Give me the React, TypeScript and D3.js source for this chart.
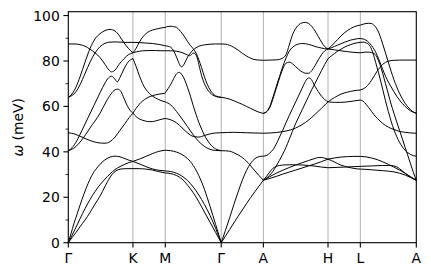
import React from "react";
import * as d3 from "d3";

// High-symmetry path (distances in units of |ΓK|)
const pathLabels = ["Γ", "K", "M", "Γ", "A", "H", "L", "A"];
const pathDistances = [0, 1, 1.5, 2.366, 3.018, 4.018, 4.518, 5.384];
const yTicks = [0, 20, 40, 60, 80, 100];
const yMinorTicks = [10, 30, 50, 70, 90];
const yMax = 101.7;

type Pt = [number, number]; // [fraction along segment, energy meV]

// Γ → K
const gammaK: Pt[][] = [
  [[0,87.5],[0.104,87.5],[0.181,87.2],[0.259,86.5],[0.336,85.2],[0.413,83.6],[0.491,81.5],[0.568,78.5],[0.63,76],[0.668,75.2],[0.723,76],[0.785,78.5],[0.862,81],[0.932,82.8],[1,83.6]],
  [[0,64],[0.057,65.5],[0.119,68.5],[0.181,73],[0.259,79.5],[0.336,85.5],[0.413,89.7],[0.491,92],[0.568,93.4],[0.646,93.9],[0.723,93.2],[0.785,91.3],[0.862,88],[0.932,85.5],[1,83.6]],
  [[0,64],[0.057,64.8],[0.119,66.5],[0.181,69.5],[0.259,74.5],[0.336,79.5],[0.413,83.5],[0.491,86.3],[0.568,87.8],[0.646,88.3],[0.723,88.4],[0.8,88.3],[0.878,88.2],[1,88.2]],
  [[0,40.5],[0.057,41.8],[0.13,44.8],[0.212,49.5],[0.305,55],[0.398,60.5],[0.491,66],[0.568,70.3],[0.622,72.6],[0.672,73.3],[0.715,72.2],[0.759,70.8],[0.8,72.8],[0.862,76.5],[0.924,79.5],[1,81.1]],
  [[0,40.5],[0.104,42],[0.207,45.2],[0.336,50.5],[0.491,57],[0.584,62],[0.661,65.5],[0.723,67.3],[0.769,67.6],[0.816,66.5],[0.862,63.5],[0.909,60.5],[0.955,58.3],[1,57]],
  [[0,48.4],[0.104,47.8],[0.212,46.5],[0.336,45],[0.46,44],[0.568,43.8],[0.646,44.5],[0.723,46.5],[0.8,49.5],[0.878,52.5],[0.94,55],[1,57]],
  [[0,0],[0.042,4],[0.088,8.5],[0.135,12.5],[0.181,16.5],[0.243,21.5],[0.305,26],[0.382,30.5],[0.46,33.5],[0.553,36.2],[0.646,37.7],[0.723,38.1],[0.8,37.8],[0.878,37],[0.94,36.3],[1,35.8]],
  [[0,0],[0.057,3.2],[0.119,6.8],[0.181,10.5],[0.259,15],[0.336,19],[0.413,22.5],[0.491,25.5],[0.568,28],[0.646,30.3],[0.723,32.2],[0.8,33.5],[0.878,34.6],[0.94,35.3],[1,35.8]],
  [[0,0],[0.057,2.2],[0.119,4.5],[0.181,7],[0.259,10],[0.336,13.3],[0.413,17],[0.491,20.5],[0.568,24.8],[0.646,28.8],[0.707,31],[0.769,32.1],[0.831,32.5],[0.909,32.6],[1,32.6]],
];

// K → M
const kM: Pt[][] = [
  [[0,83.6],[0.1,85.6],[0.2,88.3],[0.3,90.5],[0.4,92],[0.5,93],[0.6,93.6],[0.7,94],[0.8,94.3],[0.9,94.6],[1,94.8]],
  [[0,83.6],[0.1,84],[0.2,84.3],[0.3,84.5],[0.5,84.6],[0.7,84.6],[0.9,84.5],[1,84.5]],
  [[0,88.2],[0.2,88.1],[0.4,87.9],[0.6,87.7],[0.8,87.3],[0.9,87],[1,86.7]],
  [[0,81.1],[0.1,77.5],[0.2,73.5],[0.3,70],[0.4,67.5],[0.5,65.8],[0.6,64.6],[0.7,63.7],[0.8,63],[0.9,62.4],[1,62]],
  [[0,57],[0.1,59.2],[0.2,61],[0.3,62.4],[0.4,63.4],[0.5,64.2],[0.6,64.7],[0.7,65.1],[0.8,65.4],[0.9,65.6],[1,65.8]],
  [[0,57],[0.1,55.5],[0.2,54.5],[0.3,53.9],[0.4,53.5],[0.5,53.3],[0.6,53.3],[0.7,53.6],[0.8,54],[0.9,54.4],[1,54.7]],
  [[0,35.8],[0.2,36.8],[0.4,38],[0.6,39.2],[0.8,40.2],[1,40.7]],
  [[0,35.8],[0.2,34.7],[0.4,33.5],[0.6,32.5],[0.8,31.9],[1,31.6]],
  [[0,32.6],[0.2,32.6],[0.4,32.4],[0.6,32],[0.8,31.3],[1,30.7]],
];

// M → Γ
const mGamma: Pt[][] = [
  [[0,94.8],[0.05,95.2],[0.1,95.3],[0.15,95.1],[0.2,94.8],[0.25,93.7],[0.3,92.2],[0.35,90.5],[0.4,88.5],[0.45,86.8],[0.5,85.4],[0.55,83.5],[0.6,80.5],[0.65,77],[0.7,73],[0.75,69.8],[0.8,67.3],[0.85,65.7],[0.9,64.7],[0.95,64.2],[1,64]],
  [[0,86.7],[0.05,86.5],[0.1,86],[0.15,84.5],[0.2,81.8],[0.25,78.8],[0.29,77.4],[0.33,78.3],[0.37,80.3],[0.4,81.8],[0.45,83.5],[0.5,84.9],[0.55,85.8],[0.6,86.5],[0.7,87.1],[0.8,87.4],[0.9,87.5],[1,87.5]],
  [[0,84.5],[0.1,84.5],[0.2,84.3],[0.3,83.7],[0.35,83.2],[0.4,82.6],[0.43,82.3],[0.47,82.9],[0.5,83.5],[0.53,83.3],[0.57,81.5],[0.6,78.5],[0.65,73.5],[0.7,70],[0.75,67.6],[0.8,66],[0.85,65],[0.9,64.4],[0.95,64.1],[1,64]],
  [[0,66],[0.05,67.8],[0.1,69.8],[0.15,72.2],[0.2,74.3],[0.25,75],[0.3,73.9],[0.35,71.5],[0.4,68.2],[0.45,64.5],[0.5,60.3],[0.55,56.5],[0.6,53],[0.65,50],[0.7,47.3],[0.75,45.2],[0.8,43.5],[0.85,42.2],[0.9,41.3],[0.95,40.8],[1,40.5]],
  [[0,62],[0.1,60.6],[0.2,57.8],[0.3,54.5],[0.4,51],[0.5,47.5],[0.6,44.5],[0.7,42.4],[0.8,41.1],[0.9,40.6],[1,40.5]],
  [[0,54.7],[0.1,54.1],[0.2,52.8],[0.3,50.6],[0.4,48.3],[0.5,46.8],[0.6,46.5],[0.7,47.2],[0.8,47.9],[0.9,48.3],[1,48.4]],
  [[0,40.7],[0.1,40.5],[0.2,39.9],[0.3,38.8],[0.4,37],[0.5,34],[0.6,29.5],[0.7,23.5],[0.8,16],[0.9,8],[1,0]],
  [[0,31.6],[0.1,31.3],[0.2,30.6],[0.3,29.3],[0.4,27.3],[0.5,24.5],[0.6,21],[0.7,16.8],[0.8,12],[0.9,6.3],[1,0]],
  [[0,30.7],[0.1,30.4],[0.2,29.6],[0.3,28],[0.4,25.3],[0.5,22],[0.6,18],[0.7,13.5],[0.8,9],[0.9,4.5],[1,0]],
];

// Γ → A
const gammaA: Pt[][] = [
  [[0,87.5],[0.1,87.4],[0.2,86.9],[0.3,86],[0.4,84.8],[0.5,83.4],[0.6,82.2],[0.7,81.2],[0.8,80.6],[0.9,80.4],[1,80.3]],
  [[0,64],[0.1,63.7],[0.2,63.2],[0.3,62.5],[0.4,61.7],[0.5,60.9],[0.6,60],[0.7,59.1],[0.8,58.2],[0.9,57.4],[1,56.9]],
  [[0,48.4],[0.3,48.6],[0.6,48.4],[1,48.2]],
  [[0,40.5],[0.1,40.45],[0.2,40.3],[0.3,39.6],[0.4,38.7],[0.5,37.5],[0.6,35.9],[0.7,33.8],[0.8,31.6],[0.9,29.5],[1,27.5]],
  [[0,0],[0.1,2.9],[0.2,5.8],[0.3,8.7],[0.4,11.6],[0.5,14.4],[0.6,17.2],[0.7,19.9],[0.8,22.5],[0.9,25],[1,27.5]],
  [[0,0],[0.1,5.4],[0.2,11],[0.3,16.8],[0.4,22.3],[0.5,27.5],[0.6,31.8],[0.7,35],[0.8,37],[0.9,37.9],[1,38.1]],
];

// A → H
const aH: Pt[][] = [
  [[0,80.3],[0.1,80.4],[0.2,80.5],[0.25,80.7],[0.3,81.3],[0.35,82.8],[0.4,87],[0.45,91.5],[0.5,94.3],[0.55,96],[0.6,96.8],[0.65,97],[0.7,96.5],[0.75,95.2],[0.8,93.2],[0.85,90.8],[0.9,88.3],[0.95,86.3],[1,85.3]],
  [[0,57],[0.05,57.8],[0.1,60],[0.15,64.2],[0.2,68.8],[0.25,73.2],[0.3,77.5],[0.35,81.3],[0.4,84.3],[0.45,86],[0.5,87],[0.55,87.5],[0.6,87.7],[0.65,87.6],[0.7,87.3],[0.75,86.9],[0.8,86.4],[0.85,86],[0.9,85.7],[0.95,85.4],[1,85.3]],
  [[0,57],[0.05,57.6],[0.1,59.6],[0.15,63.5],[0.2,68],[0.25,72.5],[0.3,76.5],[0.35,79],[0.4,79.5],[0.45,78.8],[0.5,77.5],[0.55,76.2],[0.6,75.2],[0.65,74.6],[0.7,74.6],[0.75,75.8],[0.8,78],[0.85,80.5],[0.9,82.8],[0.95,84.5],[1,85.3]],
  [[0,38.1],[0.05,38.4],[0.1,39.5],[0.15,41],[0.2,43.5],[0.25,46.5],[0.3,49.5],[0.35,52.8],[0.4,56],[0.45,59],[0.5,62],[0.55,65],[0.6,68],[0.65,71],[0.7,72.5],[0.73,72.2],[0.77,70.5],[0.8,68.8],[0.85,66.5],[0.9,64.5],[0.95,63],[1,62]],
  [[0,27.5],[0.05,28.5],[0.1,29.8],[0.15,31.5],[0.2,33.8],[0.25,36.3],[0.3,39],[0.35,42],[0.4,45.5],[0.45,49],[0.5,52.5],[0.55,55.5],[0.6,58.5],[0.65,61.5],[0.7,64.5],[0.75,67.5],[0.8,70.2],[0.85,73],[0.9,75.8],[0.95,78.5],[1,81]],
  [[0,48.2],[0.1,48.3],[0.2,48.5],[0.3,48.9],[0.4,49.5],[0.5,50.5],[0.6,52],[0.7,54],[0.8,56.5],[0.9,59.2],[1,62]],
  [[0,27.5],[0.05,29.3],[0.1,31.2],[0.15,32.8],[0.2,33.6],[0.25,34],[0.3,34.2],[0.4,34.3],[0.5,34.3],[0.6,34.2],[0.7,34],[0.8,33.7],[0.9,33.3],[1,33]],
  [[0,27.5],[0.05,28.3],[0.1,29.1],[0.2,30.6],[0.3,31.9],[0.4,33.1],[0.5,34.2],[0.6,35.2],[0.7,36.2],[0.8,37.1],[0.85,37.5],[0.9,37.5],[0.95,37.2],[1,36.8]],
  [[0,27.5],[0.1,28.3],[0.2,29.2],[0.3,30.2],[0.4,31.1],[0.5,32],[0.6,32.9],[0.7,33.8],[0.8,34.7],[0.9,35.7],[1,36.8]],
];

// H → L
const hL: Pt[][] = [
  [[0,85.3],[0.1,86.5],[0.2,88],[0.3,89.5],[0.4,91],[0.5,92.3],[0.6,93.4],[0.7,94.3],[0.8,95],[0.9,95.5],[1,95.8]],
  [[0,85.3],[0.1,85.8],[0.2,86.4],[0.3,87],[0.4,87.6],[0.5,88.2],[0.6,88.7],[0.7,89.2],[0.8,89.5],[0.9,89.8],[1,89.9]],
  [[0,81],[0.1,82.2],[0.2,83.3],[0.3,84.3],[0.4,85.2],[0.5,86],[0.6,86.7],[0.7,87.2],[0.8,87.7],[0.9,88],[1,88.2]],
  [[0,85.3],[0.2,84.9],[0.4,84.5],[0.6,84.1],[0.8,83.8],[1,83.6]],
  [[0,62],[0.1,63],[0.2,63.9],[0.3,64.7],[0.4,65.4],[0.5,65.9],[0.6,66.3],[0.7,66.6],[0.8,66.9],[0.9,67.1],[1,67.2]],
  [[0,62],[0.2,61.8],[0.4,61.8],[0.6,62],[0.8,62.4],[1,62.8]],
  [[0,36.8],[0.2,37.3],[0.4,37.7],[0.6,37.9],[0.8,38],[1,38]],
  [[0,36.8],[0.1,36.2],[0.2,35.5],[0.3,34.8],[0.4,34.2],[0.5,33.7],[0.6,33.3],[0.7,33],[0.8,32.7],[0.9,32.5],[1,32.4]],
  [[0,33],[0.5,33.3],[1,33.6]],
];

// L → A
const lA: Pt[][] = [
  [[0,95.8],[0.05,96.2],[0.1,96.5],[0.15,96.6],[0.2,96.5],[0.25,95.6],[0.3,94],[0.35,91.2],[0.4,87.5],[0.45,83.5],[0.5,79.5],[0.55,75.5],[0.6,71.8],[0.65,68.6],[0.7,65.8],[0.75,63.4],[0.8,61.4],[0.85,59.8],[0.9,58.5],[0.95,57.5],[1,57]],
  [[0,89.9],[0.05,89.7],[0.1,89.2],[0.15,88.2],[0.2,86.8],[0.25,85],[0.3,82.5],[0.35,79.5],[0.4,76.3],[0.45,73.3],[0.5,70.8],[0.55,68.6],[0.6,66.5],[0.65,64.5],[0.7,62.8],[0.75,61.3],[0.8,60],[0.85,58.9],[0.9,58],[0.95,57.4],[1,57]],
  [[0,88.2],[0.05,88.3],[0.1,88],[0.15,87.3],[0.2,85.2],[0.25,81.5],[0.3,77],[0.35,72.5],[0.4,67.5],[0.45,62.5],[0.5,57.8],[0.55,53.5],[0.6,49.8],[0.65,46.7],[0.7,44.2],[0.75,42.2],[0.8,40.7],[0.85,39.6],[0.9,38.8],[0.95,38.3],[1,38.1]],
  [[0,83.6],[0.05,83.8],[0.1,83.9],[0.15,83.9],[0.2,83.7],[0.25,83.2],[0.3,81.5],[0.35,78.5],[0.4,74.5],[0.45,70],[0.5,65.5],[0.55,61],[0.6,57],[0.65,53.2],[0.7,49.5],[0.75,45.8],[0.8,42],[0.85,38.3],[0.9,34.5],[0.95,30.8],[1,27.5]],
  [[0,67.2],[0.05,67.7],[0.1,68.5],[0.15,69.8],[0.2,71.5],[0.25,73.5],[0.3,75.5],[0.35,77.2],[0.4,78.5],[0.45,79.4],[0.5,79.9],[0.55,80.2],[0.6,80.3],[0.7,80.4],[0.8,80.4],[0.9,80.4],[1,80.4]],
  [[0,62.8],[0.05,62.3],[0.1,61],[0.15,59.5],[0.2,57.8],[0.25,56.2],[0.3,54.8],[0.35,53.6],[0.4,52.5],[0.45,51.6],[0.5,50.9],[0.55,50.3],[0.6,49.8],[0.65,49.4],[0.7,49],[0.8,48.6],[0.9,48.3],[1,48.2]],
  [[0,38],[0.1,37.8],[0.2,37.3],[0.3,36.6],[0.4,35.6],[0.5,34.5],[0.6,33.3],[0.7,32],[0.8,30.6],[0.9,29],[1,27.5]],
  [[0,32.4],[0.1,32.3],[0.2,32.1],[0.3,31.9],[0.4,31.7],[0.5,31.5],[0.6,31.2],[0.7,30.6],[0.8,29.8],[0.9,28.7],[1,27.5]],
  [[0,33.6],[0.1,33.7],[0.2,33.8],[0.3,33.9],[0.4,34],[0.5,34],[0.6,33.8],[0.65,33.4],[0.7,32.6],[0.75,31.6],[0.8,30.6],[0.85,29.7],[0.9,28.9],[0.95,28.1],[1,27.5]],
];

const segments = [gammaK, kM, mGamma, gammaA, aH, hL, lA];

const W = 431;
const H = 276;
const margin = { left: 68.3, right: 14.7, top: 11.7, bottom: 33.3 };
const FONT = "'DejaVu Sans', sans-serif";

export default function App() {
  const x = d3
    .scaleLinear()
    .domain([pathDistances[0], pathDistances[pathDistances.length - 1]])
    .range([margin.left, W - margin.right]);
  const y = d3.scaleLinear().domain([0, yMax]).range([H - margin.bottom, margin.top]);

  const line = d3
    .line<[number, number]>()
    .x((d) => x(d[0]))
    .y((d) => y(d[1]))
    .curve(d3.curveMonotoneX);

  const paths: string[] = [];
  segments.forEach((seg, i) => {
    const d0 = pathDistances[i];
    const d1 = pathDistances[i + 1];
    seg.forEach((branch) => {
      const pts = branch.map(([t, e]) => [d0 + t * (d1 - d0), e] as [number, number]);
      paths.push(line(pts) || "");
    });
  });

  const x0 = x.range()[0];
  const x1 = x.range()[1];
  const yb = y(0);
  const yt = y(yMax);

  return (
    <svg
      width={W}
      height={H}
      style={{ position: "absolute", left: 0, top: 0, background: "#fff" }}
      fontFamily={FONT}
    >
      <rect x={0} y={0} width={W} height={H} fill="#fff" />
      {/* vertical lines at interior high-symmetry points */}
      {pathDistances.slice(1, -1).map((d, i) => (
        <line key={"g" + i} x1={x(d)} x2={x(d)} y1={yt} y2={yb} stroke="#b0b0b0" strokeWidth={1} />
      ))}
      {/* bands */}
      <g fill="none" stroke="#000" strokeWidth={1} strokeLinejoin="round">
        {paths.map((p, i) => (
          <path key={i} d={p} />
        ))}
      </g>
      {/* frame */}
      <rect x={x0} y={yt} width={x1 - x0} height={yb - yt} fill="none" stroke="#000" strokeWidth={1.1} />
      {/* y ticks */}
      {yTicks.map((v) => (
        <g key={"yt" + v}>
          <line x1={x0 - 4.9} x2={x0} y1={y(v)} y2={y(v)} stroke="#000" strokeWidth={1.1} />
          <text x={x0 - 8.5} y={y(v) + 5} textAnchor="end" fontSize={13.9} fill="#000">
            {v}
          </text>
        </g>
      ))}
      {yMinorTicks.map((v) => (
        <line key={"ym" + v} x1={x0 - 2.8} x2={x0} y1={y(v)} y2={y(v)} stroke="#000" strokeWidth={0.8} />
      ))}
      {/* x ticks */}
      {pathDistances.map((d, i) => (
        <g key={"xt" + i}>
          <line x1={x(d)} x2={x(d)} y1={yb} y2={yb + 4.9} stroke="#000" strokeWidth={1.1} />
          <text x={x(d)} y={yb + 20.3} textAnchor="middle" fontSize={13.9} fill="#000">
            {pathLabels[i]}
          </text>
        </g>
      ))}
      {/* y label */}
      <text
        transform={`translate(22.5,${(yt + yb) / 2}) rotate(-90)`}
        textAnchor="middle"
        fontSize={13.9}
        fill="#000"
      >
        <tspan fontStyle="italic">ω</tspan>
        <tspan> (meV)</tspan>
      </text>
    </svg>
  );
}
